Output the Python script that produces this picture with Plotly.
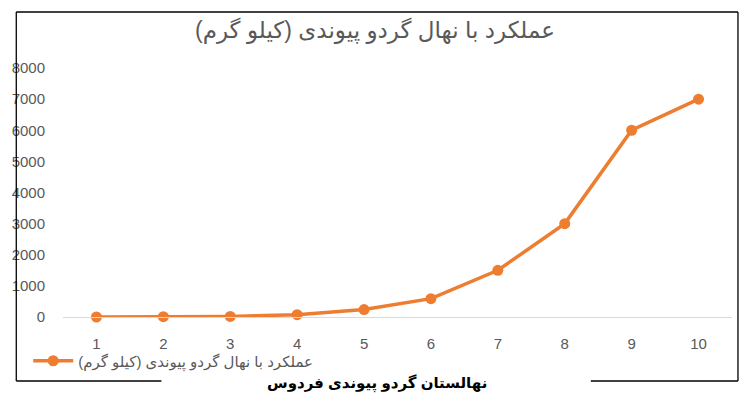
import plotly.graph_objects as go

categories = ["1", "2", "3", "4", "5", "6", "7", "8", "9", "10"]
yield_kg = [0, 10, 20, 75, 240, 590, 1500, 3000, 6000, 7000]
y_ticks = [0, 1000, 2000, 3000, 4000, 5000, 6000, 7000, 8000]

series_name = "عملکرد با نهال گردو پیوندی (کیلو گرم)"
title_text = "عملکرد با نهال گردو پیوندی (کیلو گرم)"
footer_text = "نهالستان گردو پیوندی فردوس"

W, H = 750, 400
L, R, T, B = 59, 18, 68, 83
pw, ph = W - L - R, H - T - B

def px(x):
    return (x - L) / pw

def py(y):
    return (H - B - y) / ph

FONT = "Arial, DejaVu Sans, sans-serif"
ORANGE = "#ED7D31"
GRAY = "#595959"

fig = go.Figure()
fig.add_trace(go.Scatter(
    x=categories, y=yield_kg, name=series_name, mode="lines+markers",
    line=dict(color=ORANGE, width=3.5),
    marker=dict(color=ORANGE, size=11),
    cliponaxis=False,
))

shapes = []
border = dict(type="line", xref="paper", yref="paper", line=dict(color="black", width=1.3))
for (x0, y0, x1, y1) in [(12, 12, 738, 12), (12, 12, 12, 381), (738, 12, 738, 381),
                          (12, 381, 158, 381), (590, 381, 738, 381)]:
    s = dict(border)
    s.update(x0=px(x0), y0=py(y0), x1=px(x1), y1=py(y1))
    shapes.append(s)

fig.update_layout(
    width=W, height=H,
    margin=dict(l=L, r=R, t=T, b=B),
    paper_bgcolor="white", plot_bgcolor="white",
    font=dict(family=FONT, color=GRAY, size=15),
    title=dict(text=title_text, x=0.5, xref="container",
               xanchor="center", y=1 - 30 / H, yanchor="middle",
               font=dict(size=23, color=GRAY, family=FONT)),
    xaxis=dict(type="category", range=[-0.5, 9.5], showgrid=False, zeroline=False,
               showline=True, linecolor="#D9D9D9", linewidth=1,
               ticks="", ticklabelstandoff=13, tickfont=dict(size=15, color=GRAY)),
    yaxis=dict(range=[0, 8000], tickvals=y_ticks, showgrid=False, zeroline=False,
               showline=False, ticks="", ticklabelstandoff=17,
               tickfont=dict(size=15, color=GRAY)),
    showlegend=True,
    legend=dict(x=px(24), y=py(361), xanchor="left", yanchor="middle",
                orientation="h", font=dict(size=15, color=GRAY, family=FONT),
                bgcolor="rgba(0,0,0,0)", itemwidth=40),
    shapes=shapes,
    annotations=[dict(text="<b>" + footer_text + "</b>", x=px(375), y=py(383),
                      xref="paper", yref="paper", showarrow=False,
                      xanchor="center", yanchor="middle",
                      font=dict(size=15, color="black", family=FONT))],
)

fig.write_html("out.html", config={"displayModeBar": False},
               post_script="document.body.style.margin='0px';document.body.style.padding='0px';")
